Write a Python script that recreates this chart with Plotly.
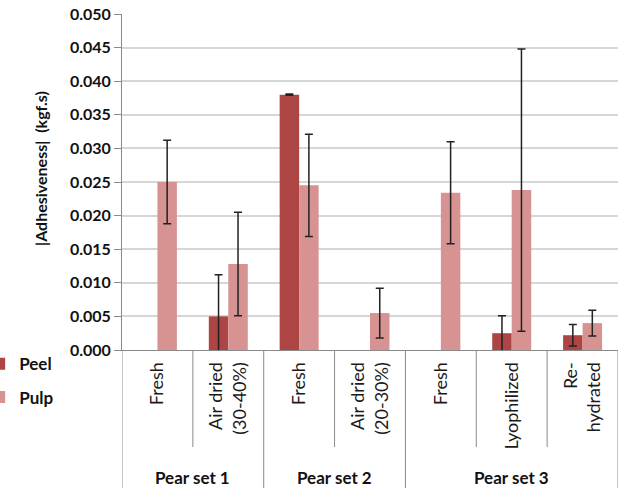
import plotly.graph_objects as go

categories = ["Fresh", "Air dried<br>(30-40%)", "Fresh", "Air dried<br>(20-30%)",
              "Fresh", "Lyophilized", "Re-<br>hydrated"]
groups = ["Pear set 1", "Pear set 2", "Pear set 3"]
group_sizes = [2, 2, 3]

peel = [None, 0.0050, 0.0380, None, None, 0.0025, 0.0022]
peel_err = [None, 0.0062, 0.0001, None, None, 0.0026, 0.0016]
pulp = [0.0250, 0.0128, 0.0245, 0.0055, 0.0234, 0.0238, 0.0040]
pulp_err = [0.0062, 0.0077, 0.0076, 0.0037, 0.0076, 0.0210, 0.0019]

PEEL_C = "#AC4543"
PULP_C = "#D69391"
AXIS_C = "#8A8A8A"
FONT = "Lato"

xs = list(range(len(categories)))

fig = go.Figure()
fig.add_trace(go.Bar(
    x=xs, y=peel, name="Peel", marker=dict(color=PEEL_C, line=dict(width=0)),
    error_y=dict(type="data", array=peel_err, visible=True, color="#222222",
                 thickness=1.5, width=4),
    legendgroup="a"))
fig.add_trace(go.Bar(
    x=xs, y=pulp, name="Pulp", marker=dict(color=PULP_C, line=dict(width=0)),
    error_y=dict(type="data", array=pulp_err, visible=True, color="#222222",
                 thickness=1.5, width=4),
    legendgroup="b"))

# dividers
inner_bottom = (350 - 447) / 336
outer_bottom = (350 - 488) / 336
bounds_outer = [-0.5]
acc = -0.5
for s in group_sizes:
    acc += s
    bounds_outer.append(acc)
for b in [i - 0.5 for i in range(len(categories) + 1)]:
    bottom = outer_bottom if b in bounds_outer else inner_bottom
    fig.add_shape(type="line", xref="x", yref="paper", x0=b, x1=b, y0=0, y1=bottom,
                  line=dict(color=AXIS_C, width=1))

# group labels
start = 0
for g, s in zip(groups, group_sizes):
    center = start + (s - 1) / 2
    fig.add_annotation(x=center, xref="x", y=(350 - 477) / 336, yref="paper",
                       text="<b>%s</b>" % g, showarrow=False,
                       font=dict(family=FONT, size=17, color="#111111"),
                       yanchor="middle")
    start += s

# y axis title
fig.add_annotation(x=(40 - 122) / 496, xref="paper", y=(350 - 169) / 336, yref="paper",
                   text="<b>|Adhesiveness|  (kgf.s)</b>", textangle=-90, showarrow=False,
                   font=dict(family=FONT, size=16, color="#111111"),
                   xanchor="center", yanchor="middle")

fig.update_layout(
    width=624, height=494,
    margin=dict(l=122, r=6, t=14, b=144, autoexpand=False),
    paper_bgcolor="white", plot_bgcolor="white",
    barmode="group", bargap=0.45, bargroupgap=0,
    font=dict(family=FONT, color="#111111"),
    showlegend=True,
    legend=dict(x=-0.288, y=0.011, xanchor="left", yanchor="top",
                font=dict(family=FONT, size=17, weight="bold"),
                tracegroupgap=8, itemwidth=30, bgcolor="rgba(0,0,0,0)"),
    xaxis=dict(range=[-0.5, 6.5], tickmode="array", tickvals=xs, ticktext=categories,
               tickangle=-90, tickfont=dict(family=FONT, size=18, color="#1A1A1A"),
               showline=True, linecolor=AXIS_C, linewidth=1,
               ticks="outside", ticklen=4, tickcolor="rgba(0,0,0,0)",
               showgrid=False, zeroline=False, fixedrange=True),
    yaxis=dict(range=[0, 0.05], dtick=0.005, tickformat=".3f",
               tickfont=dict(family=FONT, size=16, weight="bold", color="#111111"),
               ticks="outside", ticklen=7, tickcolor=AXIS_C, tickwidth=1,
               showline=True, linecolor=AXIS_C, linewidth=1,
               showgrid=True, gridcolor="#D6D6D6", gridwidth=1.5, zeroline=False),
)

fig.write_html("out.html")
